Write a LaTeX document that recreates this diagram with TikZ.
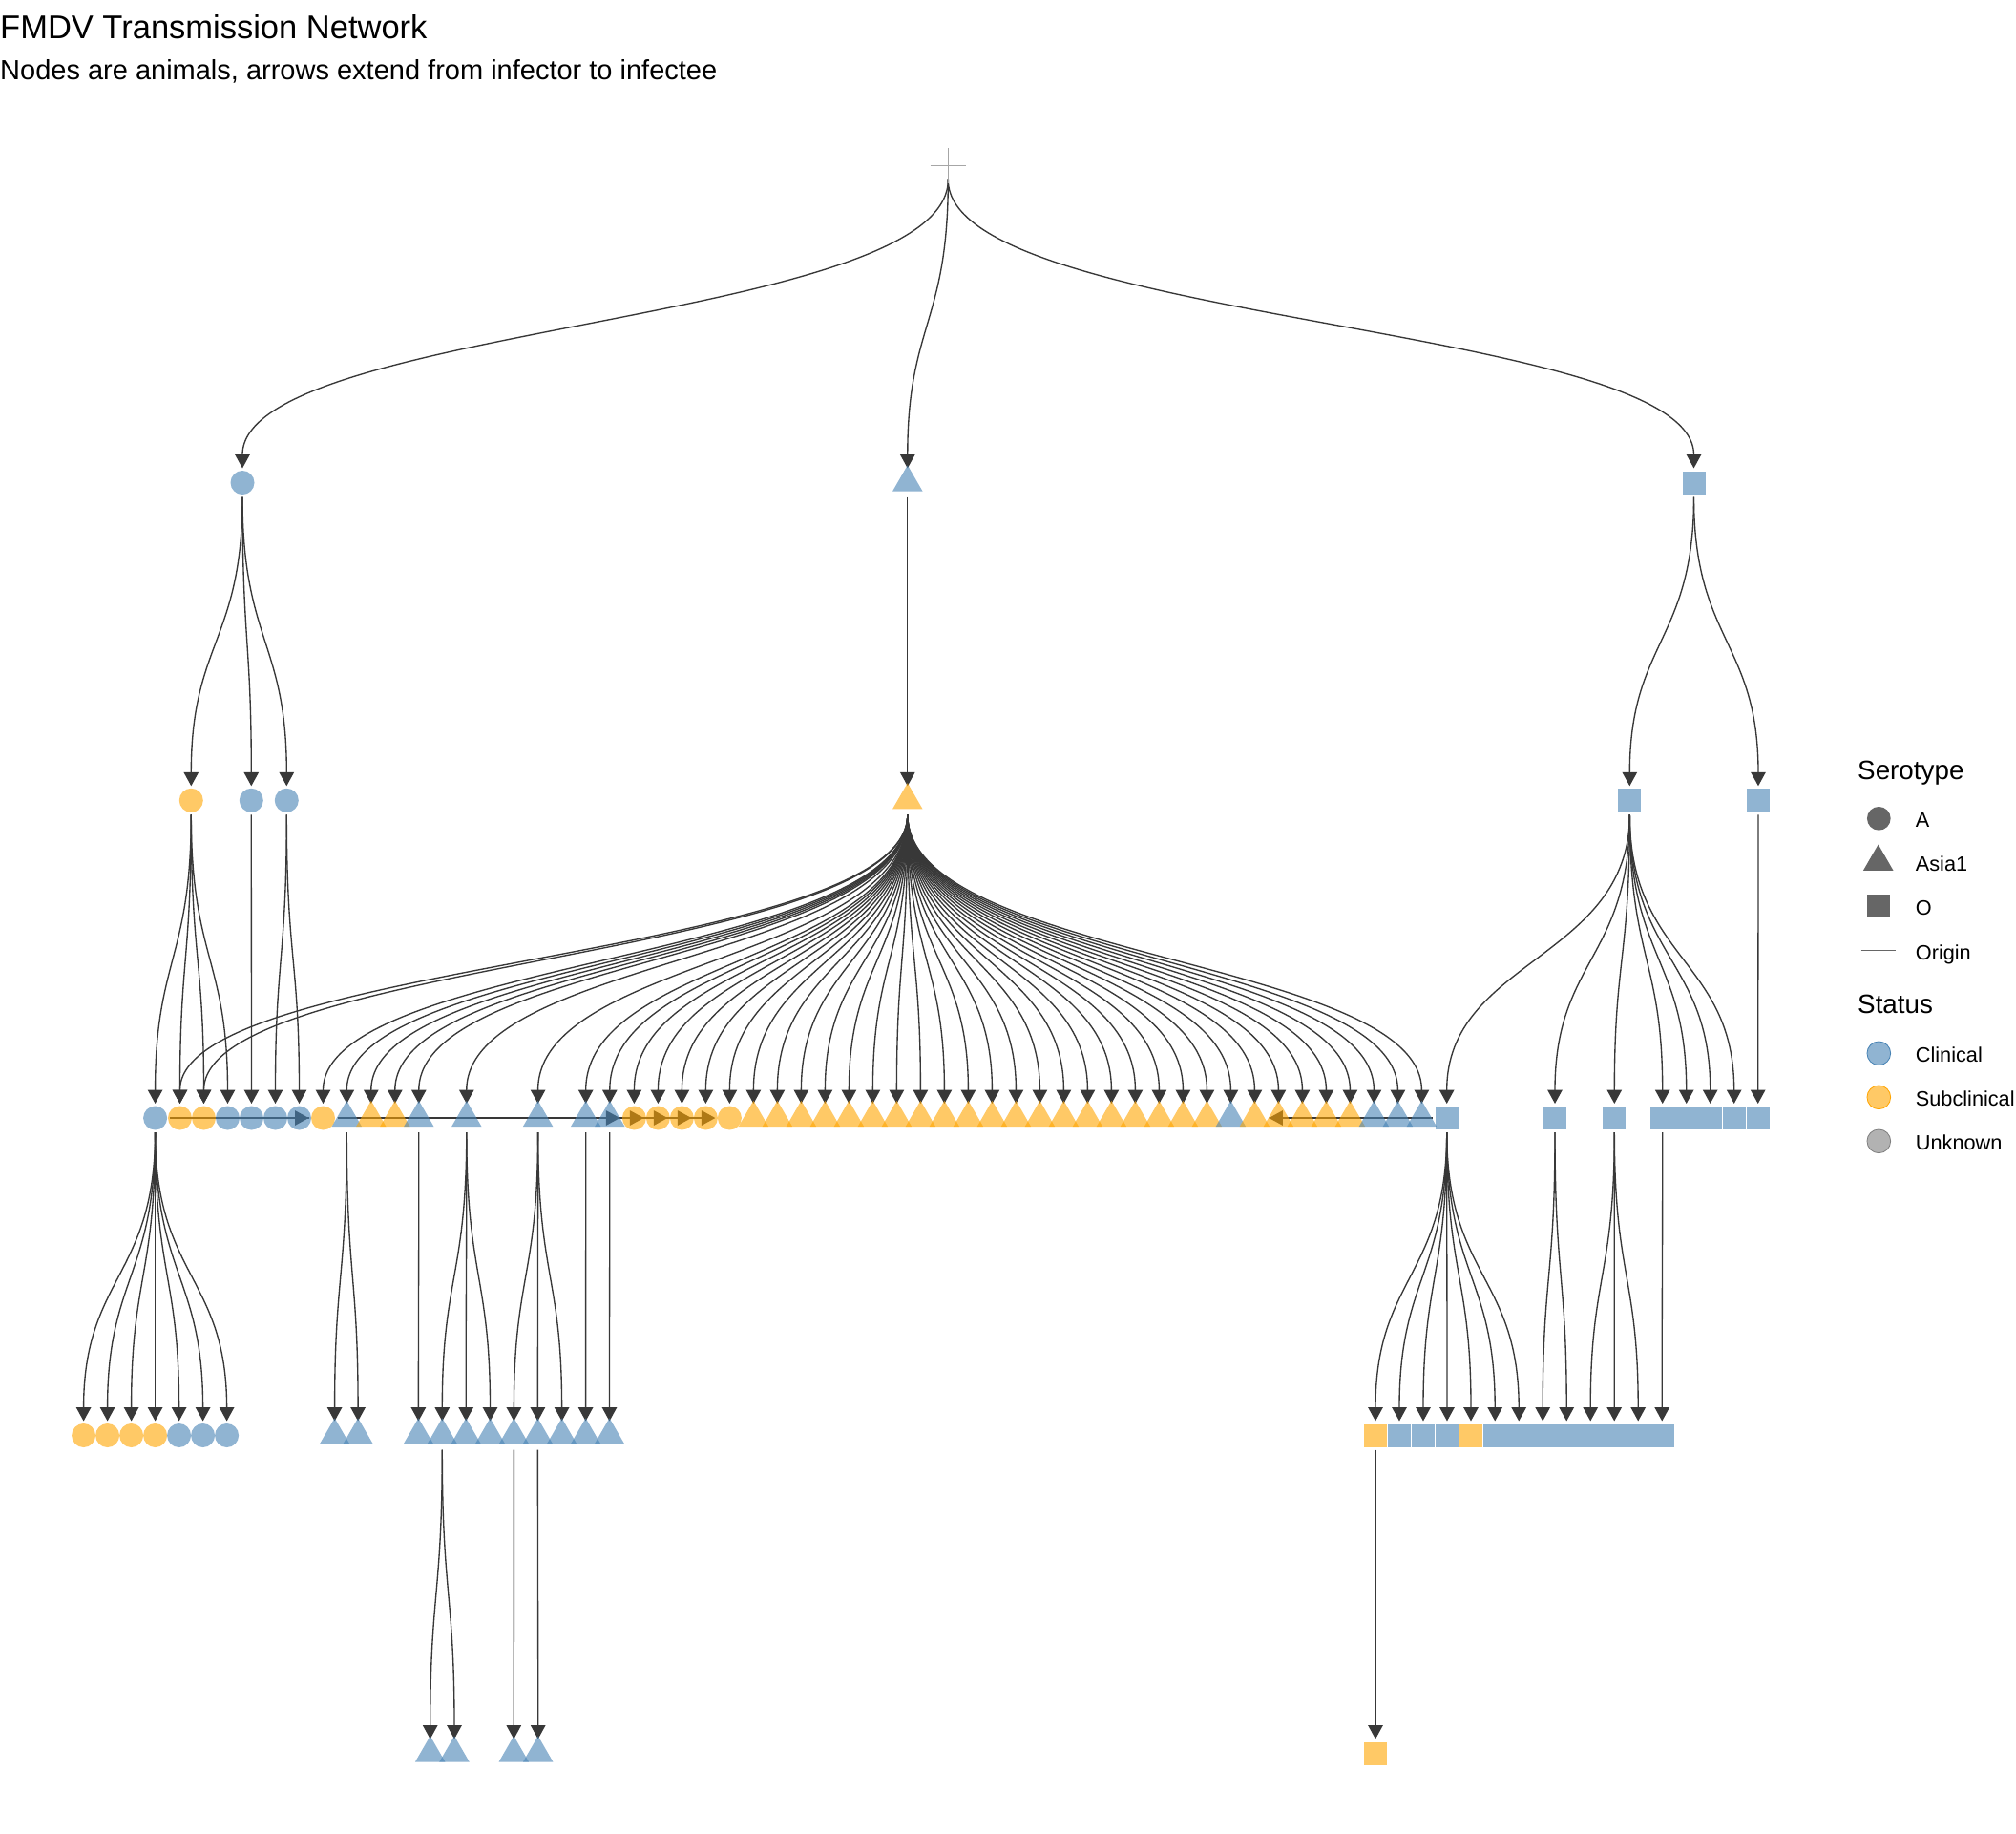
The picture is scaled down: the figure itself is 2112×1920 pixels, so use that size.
\documentclass[tikz,border=0pt]{standalone}
\usepackage{fontspec}
\setmainfont{Liberation Sans}
\usetikzlibrary{shapes.geometric,shapes.misc,arrows.meta,calc}
\definecolor{clin}{HTML}{4682B4}
\definecolor{subc}{HTML}{FFA500}
\definecolor{unkn}{HTML}{7F7F7F}
\definecolor{edgec}{HTML}{383838}
\definecolor{keyc}{HTML}{666666}
\definecolor{crossc}{HTML}{A6A6A6}
\pgfdeclarelayer{bg}
\pgfsetlayers{bg,main}
\tikzset{
  nbase/.style={inner sep=0pt, outer sep=0pt, draw=none, fill opacity=0.6},
  ccl/.style={nbase, circle, minimum size=25pt, fill=clin},
  csc/.style={nbase, circle, minimum size=25pt, fill=subc},
  tcl/.style={nbase, regular polygon, regular polygon sides=3, minimum size=36.4pt, fill=clin},
  tsc/.style={nbase, regular polygon, regular polygon sides=3, minimum size=36.4pt, fill=subc},
  scl/.style={nbase, rectangle, minimum size=24pt, fill=clin},
  ssc/.style={nbase, rectangle, minimum size=24pt, fill=subc},
  swcl/.style={nbase, rectangle, minimum width=25pt, minimum height=24pt, fill=clin},
  edge/.style={draw=edgec, line width=1.35pt, shorten <=15pt, shorten >=15pt,
    -{Triangle[length=14.5pt,width=15.5pt]}},
  ttl/.style={anchor=base west, inner sep=0pt, font=\fontsize{34.5}{41}\selectfont},
  subttl/.style={anchor=base west, inner sep=0pt, font=\fontsize{29}{35}\selectfont},
  legttl/.style={anchor=base west, inner sep=0pt, font=\fontsize{27.8}{33}\selectfont},
  legtxt/.style={anchor=base west, inner sep=0pt, font=\fontsize{21.7}{26}\selectfont},
  keybase/.style={inner sep=0pt, outer sep=0pt, fill=keyc, draw=none},
  stkey/.style={circle, inner sep=0pt, minimum size=24.7pt, line width=0.8pt, fill opacity=0.6},
}
\newcommand\edg[2]{\draw[edge] let \p1=(#1.center), \p2=(#2.center) in
  (\p1) .. controls (\x1,{0.5*(\y1)+0.5*(\y2)}) and (\x2,{0.5*(\y1)+0.5*(\y2)}) .. (\p2);}

\begin{document}
\begin{tikzpicture}[x=1pt,y=-1pt]
\begin{pgfonlayer}{bg}
\fill[white] (0,0) rectangle (2112,1920);
\end{pgfonlayer}
\useasboundingbox (0,0) rectangle (2112,1920);

% titles
\node[ttl] (title) at (0,40) {FMDV Transmission Network};
\node[subttl] (subtitle) at (0,83.3) {Nodes are animals, arrows extend from infector to infectee};

% level 0
\node[cross out, draw=crossc, line width=1pt, minimum size=25.5pt, inner sep=0pt, rotate=45] (o) at (993.3,173.3) {};

% level 1
\node[ccl] (n1a) at (254,505.5) {};
\node[tcl] (n1b) at (950.8,505.5) {};
\node[scl] (n1c) at (1774.5,505.5) {};

% level 2
\node[csc] (n2a) at (200.3,838.3) {};
\node[ccl] (n2b) at (263.3,838.3) {};
\node[ccl] (n2c) at (300.3,838.3) {};
\node[tsc] (n2d) at (950.8,838.3) {};
\node[scl] (n2e) at (1707.3,838.3) {};
\node[scl] (n2f) at (1842,838.3) {};

% level 3
\node[ccl] (c1) at (162.6,1171) {};
\node[csc] (c2) at (188.5,1171) {};
\node[csc] (c3) at (213.5,1171) {};
\node[ccl] (c4) at (238.5,1171) {};
\node[ccl] (c5) at (263.5,1171) {};
\node[ccl] (c6) at (288.5,1171) {};
\node[ccl] (c7) at (313.5,1171) {};
\node[csc] (c8) at (338.5,1171) {};
\node[tcl] (t9) at (363.3,1171) {};
\node[tsc] (t10) at (388.8,1171) {};
\node[tsc] (t11) at (413.8,1171) {};
\node[tcl] (t12) at (438.8,1171) {};
\node[tcl] (t13) at (488.8,1171) {};
\node[tcl] (t14) at (563.6,1171) {};
\node[tcl] (t15) at (613.7,1171) {};
\node[tcl] (t16) at (638.8,1171) {};
\foreach \i in {17,...,21} {\node[csc] (c\i) at ({664.4+25*(\i-17)},1171) {};}
\foreach \i in {22,...,41} {\node[tsc] (t\i) at ({789.4+25*(\i-22)},1171) {};}
\node[tcl] (t42) at (1289.4,1171) {};
\foreach \i in {43,...,47} {\node[tsc] (t\i) at ({1314.4+25*(\i-43)},1171) {};}
\foreach \i in {48,49,50} {\node[tcl] (t\i) at ({1439.4+25*(\i-48)},1171) {};}
\node[scl] (s51) at (1515.7,1171) {};
\node[scl] (s52) at (1629,1171) {};
\node[scl] (s53) at (1691.3,1171) {};
\node[swcl] (s54) at (1741.7,1171) {};
\node[swcl] (s55) at (1766.7,1171) {};
\node[swcl] (s56) at (1791.7,1171) {};
\node[scl] (s57) at (1816.7,1171) {};
\node[scl] (s58) at (1841.7,1171) {};

% level 4
\foreach \i in {1,...,4} {\node[csc] (d\i) at ({87.6+25*(\i-1)},1503.5) {};}
\foreach \i in {5,6,7} {\node[ccl] (d\i) at ({87.6+25*(\i-1)},1503.5) {};}
\foreach \i/\xx in {1/350.6,2/375.1,3/438.4,4/463.3,5/488.2,6/513.5,7/538.4,8/563.4,9/588.6,10/613.6,11/638.5}
  {\node[tcl] (e\i) at (\xx,1503.5) {};}
\node[ssc] (f1) at (1441,1503.5) {};
\node[scl] (f2) at (1466,1503.5) {};
\node[scl] (f3) at (1491,1503.5) {};
\node[scl] (f4) at (1516,1503.5) {};
\node[ssc] (f5) at (1541,1503.5) {};
\foreach \i in {6,...,13} {\node[swcl] (f\i) at ({1566.2+25*(\i-6)},1503.5) {};}

% level 5
\node[tcl] (g1) at (450.7,1836.5) {};
\node[tcl] (g2) at (476,1836.5) {};
\node[tcl] (g3) at (538.3,1836.5) {};
\node[tcl] (g4) at (563.7,1836.5) {};
\node[ssc] (h1) at (1441,1836.5) {};

% edges
\begin{pgfonlayer}{bg}
\edg{o}{n1a} \edg{o}{n1b} \edg{o}{n1c}
\edg{n1a}{n2a} \edg{n1a}{n2b} \edg{n1a}{n2c}
\edg{n1b}{n2d}
\edg{n1c}{n2e} \edg{n1c}{n2f}
\foreach \tg in {c1,c2,c3,c4} {\edg{n2a}{\tg}}
\edg{n2b}{c5}
\edg{n2c}{c6} \edg{n2c}{c7}
\foreach \tg in {c2,c3,c8,t9,t10,t11,t12,t13,t14,t15,t16,c17,c18,c19,c20,c21} {\edg{n2d}{\tg}}
\foreach \i in {22,...,50} {\edg{n2d}{t\i}}
\foreach \tg in {s51,s52,s53,s54,s55,s56,s57} {\edg{n2e}{\tg}}
\edg{n2f}{s58}
\edg{c1}{c8}
\foreach \tg in {c17,c18,c19,c20,c21} {\edg{c8}{\tg}}
\edg{s51}{t43}
\foreach \i in {1,...,7} {\edg{c1}{d\i}}
\edg{t9}{e1} \edg{t9}{e2}
\edg{t12}{e3}
\edg{t13}{e4} \edg{t13}{e5} \edg{t13}{e6}
\edg{t14}{e7} \edg{t14}{e8} \edg{t14}{e9}
\edg{t15}{e10}
\edg{t16}{e11}
\foreach \i in {1,...,7} {\edg{s51}{f\i}}
\edg{s52}{f8} \edg{s52}{f9}
\edg{s53}{f10} \edg{s53}{f11} \edg{s53}{f12}
\edg{s54}{f13}
\edg{e4}{g1} \edg{e4}{g2}
\edg{e7}{g3}
\edg{e8}{g4}
\edg{f1}{h1}
\end{pgfonlayer}

% legend
\node[legttl] (lt1) at (1946,816.7) {Serotype};
\node[keybase, circle, minimum size=24.7pt] (kA) at (1968.3,857.3) {};
\node[keybase, regular polygon, regular polygon sides=3, minimum size=36.6pt] (kB) at (1967.7,902.8) {};
\node[keybase, rectangle, minimum size=24pt] (kC) at (1968,949) {};
\node[cross out, draw=keyc, line width=1pt, minimum size=25pt, inner sep=0pt, rotate=45] (kD) at (1968,995.3) {};
\node[legtxt] (lA) at (2006.7,866.7) {A};
\node[legtxt] (lB) at (2006.7,912.7) {Asia1};
\node[legtxt] (lC) at (2006.7,958.5) {O};
\node[legtxt] (lD) at (2006.7,1005) {Origin};
\node[legttl] (lt2) at (1946,1061.7) {Status};
\node[stkey, fill=clin, draw=clin] (kE) at (1968.3,1103.3) {};
\node[stkey, fill=subc, draw=subc] (kF) at (1968.3,1149.3) {};
\node[stkey, fill=unkn, draw=unkn] (kG) at (1968.3,1195.3) {};
\node[legtxt] (lE) at (2006.7,1112.7) {Clinical};
\node[legtxt] (lF) at (2006.7,1158.3) {Subclinical};
\node[legtxt] (lG) at (2006.7,1204) {Unknown};
\end{tikzpicture}
\end{document}
